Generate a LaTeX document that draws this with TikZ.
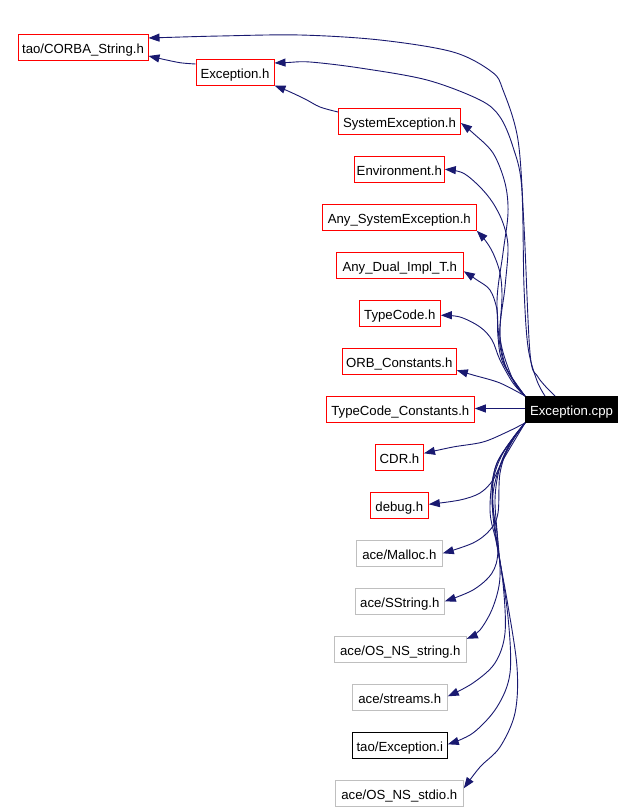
\documentclass[tikz,border=0pt]{standalone}
\usepackage{fontspec}
\setmainfont{Liberation Sans}
\usetikzlibrary{arrows.meta,calc}
\definecolor{edgeblue}{HTML}{191970}
\definecolor{boxgray}{HTML}{BFBFBF}
\begin{document}
\begin{tikzpicture}[x=1pt,y=-1pt,
  box/.style={draw, line width=1pt, minimum height=26pt, inner xsep=2pt, inner ysep=0pt,
    text height=12pt, text depth=0pt,
    font=\fontsize{13.2}{15}\selectfont, text=black},
  redbox/.style={box, draw=red},
  graybox/.style={box, draw=boxgray},
  blackbox/.style={box, draw=black},
  edge/.style={draw=edgeblue, line width=0.9pt, -{Triangle[length=11pt,width=8pt]}},
  sm/.style={smooth, tension=0.55}]
\useasboundingbox (0,0) rectangle (635,811);
\fill[white] (0,0) rectangle (635,811);

\node[redbox, minimum width=130pt] (corba) at (83,47) {tao/CORBA\_String.h};
\node[redbox, minimum width=78pt] (exh) at (235,72) {Exception.h};
\node[redbox, minimum width=122pt] (sys) at (399.5,121) {SystemException.h};
\node[redbox, minimum width=90pt] (env) at (399.3,169.3) {Environment.h};
\node[redbox, minimum width=154pt] (anysys) at (399.3,217.3) {Any\_SystemException.h};
\node[redbox, minimum width=127pt] (anydual) at (399.8,265.3) {Any\_Dual\_Impl\_T.h};
\node[redbox, minimum width=81pt] (tc) at (399.8,313.3) {TypeCode.h};
\node[redbox, minimum width=114pt] (orb) at (399.3,361.3) {ORB\_Constants.h};
\node[redbox, minimum width=148pt] (tcc) at (400.3,409.5) {TypeCode\_Constants.h};
\node[box, fill=black, draw=black, text=white, minimum width=92pt] (cpp) at (571.5,409.5) {Exception.cpp};
\node[redbox, minimum width=48pt] (cdr) at (399.5,457.3) {CDR.h};
\node[redbox, minimum width=58pt] (dbg) at (399.3,505.3) {debug.h};
\node[graybox, minimum width=86pt] (malloc) at (399.3,553.3) {ace/Malloc.h};
\node[graybox, minimum width=89pt] (sstr) at (399.8,601.3) {ace/SString.h};
\node[graybox, minimum width=132pt] (osstr) at (400.3,649.3) {ace/OS\_NS\_string.h};
\node[graybox, minimum width=95pt] (streams) at (399.8,697.3) {ace/streams.h};
\node[blackbox, minimum width=95pt] (exi) at (399.8,745.3) {tao/Exception.i};
\node[graybox, minimum width=128pt] (osstdio) at (399.3,793.3) {ace/OS\_NS\_stdio.h};

% upper edges
\draw[edge] plot[sm] coordinates {([xshift=30pt]cpp.north west) (538,377) (530,353) (524,226) (518,140) (503,90) (492,72) (453,52) (380,40) (300,35) (220,36) (165,37.5) ([yshift=9pt]corba.east)};
\draw[edge] plot[sm] coordinates {([xshift=20pt]cpp.north west) (536.7,380) (528,347) (524,287) (521.7,187) (513,147) (500,117) (480,100) (427,80) (360,68) (310,62) (288,62.5) ([yshift=9pt]exh.east)};
\draw[edge] plot[sm] coordinates {([yshift=9pt]sys.west) (320,107) (305,99) (288,91) (exh.south east)};
\draw[edge] plot[sm] coordinates {([yshift=8pt]exh.west) (180,62.7) (162,59) ([yshift=-9pt]corba.east)};
\draw[edge] plot[sm] coordinates {(cpp.north west) (503,360) (497,303) (503,253) (508,213) (505,183) (493,153) (473,133) ([yshift=-2pt]sys.east)};
\draw[edge] plot[sm] coordinates {(cpp.north west) (513,380) (500,337) (505,287) (508,247) (503,223) (493,203) (480,187) (463,173) (env.east)};
\draw[edge] plot[sm] coordinates {(cpp.north west) (507,370) (500,337) (502,297) (500,273) (493,253) (485,240) (anysys.south east)};
\draw[edge] plot[sm] coordinates {(cpp.north west) (503,363) (498,337) (497,310) (490,290) (477,280) ([yshift=-6pt]anydual.east)};
\draw[edge] plot[sm] coordinates {(cpp.north west) (513,383) (500,360) (492,340) (480,327) (460,317) ([yshift=-2pt]tc.east)};
\draw[edge] plot[sm] coordinates {(cpp.north west) (500,383) (473,375) ([yshift=-9pt]orb.east)};
\draw[edge] ([yshift=1pt]cpp.west) -- ([yshift=1pt]tcc.east);

% lower edges
\draw[edge] plot[sm] coordinates {(cpp.south west) (507,432) (483,442) (453,447) ([yshift=4pt]cdr.east)};
\draw[edge] plot[sm] coordinates {(cpp.south west) (503,460) (493,480) (480,493) (460,500) ([yshift=1pt]dbg.east)};
\draw[edge] plot[sm] coordinates {(cpp.south west) (510,443) (500,473) (498,513) (490,530) (473,543) (malloc.east)};
\draw[edge] plot[sm] coordinates {(cpp.south west) (513,440) (500,467) (495,500) (498,550) (492,573) (473,590) (sstr.east)};
\draw[edge] plot[sm] coordinates {(cpp.south west) (497,463) (492,500) (497,533) (500,577) (493,607) (480,630) ([yshift=-3pt]osstr.north east)};
\draw[edge] plot[sm] coordinates {(cpp.south west) (503,453) (493,483) (495,527) (503,583) (505,633) (495,663) (473,683) ([yshift=1pt]streams.east)};
\draw[edge] plot[sm] coordinates {(cpp.south west) (497,463) (490,510) (498,550) (508,617) (510,673) (497,707) (473,733) ([yshift=1pt]exi.east)};
\draw[edge] plot[sm] coordinates {(cpp.south west) (505,453) (493,493) (495,533) (507,600) (517,667) (515,713) (500,747) (480,767) ([yshift=5pt]osstdio.east)};
\end{tikzpicture}
\end{document}
